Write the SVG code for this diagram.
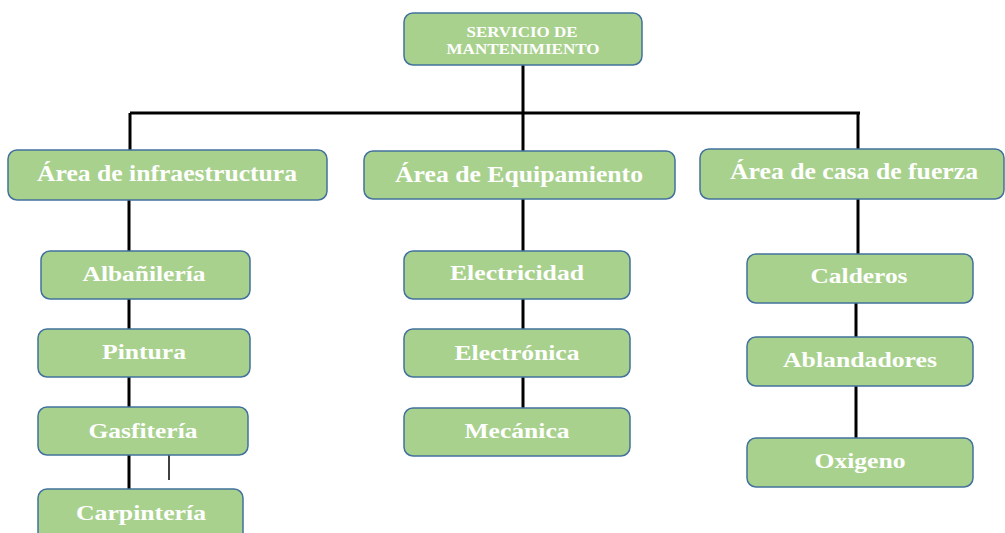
<svg xmlns="http://www.w3.org/2000/svg" width="1005" height="533" viewBox="0 0 1005 533">
<style>
.box{fill:#a9d18e;stroke:#41719c;stroke-width:1.5}
.t{fill:#ffffff;font-family:"Liberation Serif",serif;font-weight:bold;text-anchor:middle}
.a{font-size:23px}
.c{font-size:21.5px}
.s{font-size:14px}
.ln{stroke:#000;stroke-width:3;fill:none}
</style>
<rect width="1005" height="533" fill="#ffffff"/>
<g id="connectors">
<path class="ln" d="M523 65V151M130 113H860M130 113V151M858 113V150"/>
<path class="ln" d="M129 199V251M129 299V329M129 377V408M129 455V489"/>
<path class="ln" d="M523 199V251M523 299V329M523 377V408"/>
<path class="ln" d="M858 199V254M856 303V337M856 386V438"/>
<path d="M169 455V480" stroke="#000" stroke-width="1.5"/>
</g>
<g id="n0"><rect class="box" x="404" y="13" width="238" height="52" rx="9"/><text class="t s" x="522" y="37" textLength="111" lengthAdjust="spacingAndGlyphs">SERVICIO DE</text><text class="t s" x="523" y="54" textLength="153" lengthAdjust="spacingAndGlyphs">MANTENIMIENTO</text></g>
<g id="n1"><rect class="box" x="8" y="150" width="319" height="50" rx="9"/><text class="t a" x="167" y="181" textLength="260" lengthAdjust="spacingAndGlyphs">Área de infraestructura</text></g>
<g id="n2"><rect class="box" x="364" y="151" width="311" height="48" rx="9"/><text class="t a" x="519" y="182" textLength="248" lengthAdjust="spacingAndGlyphs">Área de Equipamiento</text></g>
<g id="n3"><rect class="box" x="700" y="149" width="304" height="50" rx="9"/><text class="t a" x="854" y="179" textLength="248" lengthAdjust="spacingAndGlyphs">Área de casa de fuerza</text></g>
<g id="n4"><rect class="box" x="41" y="251" width="209" height="48" rx="9"/><text class="t c" x="144" y="281" textLength="123" lengthAdjust="spacingAndGlyphs">Albañilería</text></g>
<g id="n5"><rect class="box" x="38" y="329" width="212" height="48" rx="9"/><text class="t c" x="144" y="359" textLength="84" lengthAdjust="spacingAndGlyphs">Pintura</text></g>
<g id="n6"><rect class="box" x="38" y="407" width="210" height="48" rx="9"/><text class="t c" x="143" y="438" textLength="109" lengthAdjust="spacingAndGlyphs">Gasfitería</text></g>
<g id="n7"><rect class="box" x="38" y="489" width="205" height="60" rx="9"/><text class="t c" x="141" y="520" textLength="130" lengthAdjust="spacingAndGlyphs">Carpintería</text></g>
<g id="n8"><rect class="box" x="404" y="251" width="226" height="48" rx="9"/><text class="t c" x="517" y="280" textLength="134" lengthAdjust="spacingAndGlyphs">Electricidad</text></g>
<g id="n9"><rect class="box" x="404" y="329" width="226" height="48" rx="9"/><text class="t c" x="517" y="360" textLength="125" lengthAdjust="spacingAndGlyphs">Electrónica</text></g>
<g id="n10"><rect class="box" x="404" y="408" width="226" height="48" rx="9"/><text class="t c" x="517" y="438" textLength="105" lengthAdjust="spacingAndGlyphs">Mecánica</text></g>
<g id="n11"><rect class="box" x="747" y="254" width="226" height="49" rx="9"/><text class="t c" x="859" y="283" textLength="97" lengthAdjust="spacingAndGlyphs">Calderos</text></g>
<g id="n12"><rect class="box" x="747" y="337" width="226" height="49" rx="9"/><text class="t c" x="860" y="367" textLength="154" lengthAdjust="spacingAndGlyphs">Ablandadores</text></g>
<g id="n13"><rect class="box" x="747" y="438" width="226" height="49" rx="9"/><text class="t c" x="860" y="468" textLength="91" lengthAdjust="spacingAndGlyphs">Oxigeno</text></g>
</svg>
